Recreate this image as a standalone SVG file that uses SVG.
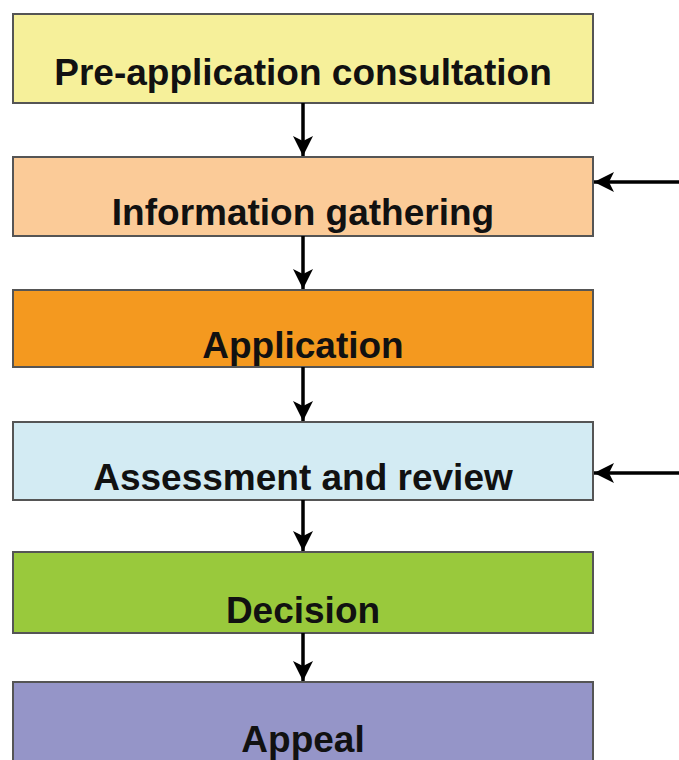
<svg xmlns="http://www.w3.org/2000/svg" width="679" height="760" viewBox="0 0 679 760">
<style>
.box{stroke:#555;stroke-width:2}
.lbl{font-family:"Liberation Sans",Arial,sans-serif;font-weight:bold;font-size:37px;fill:#111;text-anchor:middle}
.con{stroke:#000;stroke-width:3.5;fill:none}
</style>
<defs>
<marker id="ah" markerUnits="userSpaceOnUse" markerWidth="22" markerHeight="22" viewBox="0 0 22 22" refX="21" refY="11" orient="auto">
<path d="M1,1 L21,11 L1,21 L6,11 Z" fill="#000"/>
</marker>
</defs>
<rect width="679" height="760" fill="#fff"/>
<g id="n1"><rect class="box" x="13" y="14" width="580" height="89" fill="#F6F09A"/><text class="lbl" x="303" y="85">Pre-application consultation</text></g>
<g id="n2"><rect class="box" x="13" y="157" width="580" height="79" fill="#FBCB98"/><text class="lbl" x="303" y="225">Information gathering</text></g>
<g id="n3"><rect class="box" x="13" y="290" width="580" height="77" fill="#F4991F"/><text class="lbl" x="303" y="358">Application</text></g>
<g id="n4"><rect class="box" x="13" y="422" width="580" height="78" fill="#D3EBF3"/><text class="lbl" x="303" y="490">Assessment and review</text></g>
<g id="n5"><rect class="box" x="13" y="552" width="580" height="81" fill="#99C93C"/><text class="lbl" x="303" y="623">Decision</text></g>
<g id="n6"><rect class="box" x="13" y="682" width="580" height="90" fill="#9595C8" stroke="#33335a"/><text class="lbl" x="303" y="752">Appeal</text></g>
<g id="connectors">
<line class="con" x1="303" y1="103" x2="303" y2="156" marker-end="url(#ah)"/>
<line class="con" x1="303" y1="236" x2="303" y2="289" marker-end="url(#ah)"/>
<line class="con" x1="303" y1="367" x2="303" y2="421" marker-end="url(#ah)"/>
<line class="con" x1="303" y1="500" x2="303" y2="551" marker-end="url(#ah)"/>
<line class="con" x1="303" y1="633" x2="303" y2="681" marker-end="url(#ah)"/>
<line class="con" x1="679" y1="182" x2="594" y2="182" marker-end="url(#ah)"/>
<line class="con" x1="679" y1="473" x2="594" y2="473" marker-end="url(#ah)"/>
</g>
</svg>
